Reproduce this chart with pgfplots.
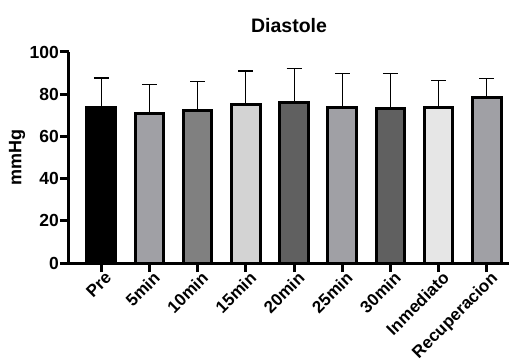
\documentclass[border=0pt]{standalone}
\usepackage{pgfplots}
\pgfplotsset{compat=1.18}
\usepackage{fontspec}
\setmainfont{Liberation Sans}
\definecolor{cA}{RGB}{160,160,165}
\definecolor{cB}{RGB}{128,128,128}
\definecolor{cC}{RGB}{211,211,211}
\definecolor{cD}{RGB}{96,96,96}
\definecolor{cE}{RGB}{230,230,230}
\begin{document}
\begin{tikzpicture}
\begin{axis}[
  scale only axis, width=440pt, height=211pt,
  xmin=-0.67, xmax=8.46, ymin=0, ymax=100,
  axis x line=bottom, axis y line=left,
  axis line style={-, line width=3pt},
  every tick/.style={black, line width=3pt},
  major tick length=9pt,
  tick align=outside,
  xtick={0,...,8},
  xticklabels={Pre,5min,10min,15min,20min,25min,30min,Inmediato,Recuperacion},
  ytick={0,20,...,100},
  /pgf/number format/assume math mode=true,
  tick label style={font=\fontsize{17.5}{19}\selectfont\bfseries},
  x tick label style={font=\fontsize{17}{19}\selectfont\bfseries, rotate=45, anchor=north east, inner sep=0pt, xshift=3pt, yshift=-1pt},
  y tick label style={inner sep=1pt},
  ylabel={mmHg},
  ylabel style={font=\fontsize{18}{20}\selectfont\bfseries, yshift=0pt},
  title={Diastole},
  title style={font=\fontsize{19.5}{22}\selectfont\bfseries, yshift=10pt},
  ybar, bar width=28.6pt, bar shift=0pt,
  every axis plot/.append style={draw=black, line width=3pt,
    error bars/y dir=plus, error bars/y explicit,
    error bars/error bar style={line width=1.1pt, black},
    error bars/error mark options={rotate=90, mark size=7.5pt, line width=1.1pt, black}},
  clip=false,
]
\addplot[fill=black] coordinates {(0,73.6) +- (0,14.1)};
\addplot[fill=cA] coordinates {(1,70.9) +- (0,13.5)};
\addplot[fill=cB] coordinates {(2,72.5) +- (0,13.4)};
\addplot[fill=cC] coordinates {(3,75.2) +- (0,15.8)};
\addplot[fill=cD] coordinates {(4,76.3) +- (0,16.0)};
\addplot[fill=cA] coordinates {(5,73.5) +- (0,16.1)};
\addplot[fill=cD] coordinates {(6,73.1) +- (0,16.6)};
\addplot[fill=cE] coordinates {(7,73.5) +- (0,12.8)};
\addplot[fill=cA] coordinates {(8,78.3) +- (0,9.0)};
\coordinate (O) at (rel axis cs:0,0);
\end{axis}
\pgfresetboundingbox
\path ([shift={(-69pt,-101pt)}]O) rectangle ([shift={(440pt,263pt)}]O);
\end{tikzpicture}
\end{document}
